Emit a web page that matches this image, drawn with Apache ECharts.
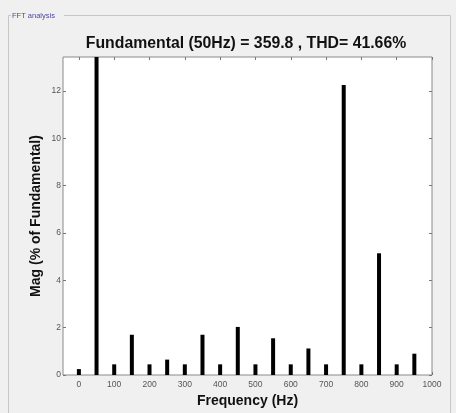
<!DOCTYPE html>
<html>
<head>
<meta charset="utf-8">
<script src="https://cdn.jsdelivr.net/npm/echarts@6/dist/echarts.min.js"></script>
<style>
html,body{margin:0;padding:0;background:#f0f0f0;}
#c{width:456px;height:413px;}
</style>
</head>
<body>
<div id="c"></div>
<script>
var frequencies = [0, 50, 100, 150, 200, 250, 300, 350, 400, 450, 500, 550, 600, 650, 700, 750, 800, 850, 900, 950];
var magnitudes = [0.25, 100, 0.45, 1.7, 0.45, 0.65, 0.45, 1.7, 0.45, 2.03, 0.45, 1.55, 0.45, 1.12, 0.45, 12.25, 0.45, 5.14, 0.45, 0.9];
var xTicks = [0, 100, 200, 300, 400, 500, 600, 700, 800, 900, 1000];
var yTicks = [0, 2, 4, 6, 8, 10, 12];
var titleText = 'Fundamental (50Hz) = 359.8 , THD= 41.66%';

var chart = echarts.init(document.getElementById('c'), null, {renderer: 'canvas'});
var tickStyle = {show: true, inside: true, length: 3, lineStyle: {color: '#777', width: 1}};
var labelStyle = {color: '#555', fontSize: 8.5, fontFamily: 'Liberation Sans Narrow, Liberation Sans, Arial',
  formatter: function (v) { return String(v); }};
var data = frequencies.map(function (f, i) { return [f, magnitudes[i]]; });
var noLine = {show: false, onZero: false};

chart.setOption({
  backgroundColor: '#f0f0f0',
  animation: false,
  title: {
    text: titleText,
    left: 241, top: 31, textAlign: 'center',
    textStyle: {fontSize: 15.8, fontWeight: 'bold', color: '#111', fontFamily: 'Liberation Sans, Arial'}
  },
  graphic: [
    {type: 'rect', shape: {x: 8.5, y: 15.5, width: 442, height: 420}, style: {fill: 'none', stroke: '#c6c6c6', lineWidth: 1}, z: 0},
    {type: 'rect', shape: {x: 11, y: 10, width: 53, height: 11}, style: {fill: '#f0f0f0'}, z: 1},
    {type: 'text', x: 12, y: 15.5, style: {text: 'FFT analysis', fontSize: 7.5, fill: '#4a4aa0', fontFamily: 'Liberation Sans, Arial', verticalAlign: 'middle'}, z: 2}
  ],
  grid: {
    left: 63, top: 57, right: 24, bottom: 37,
    show: true, backgroundColor: '#fff', borderColor: '#8a8a8a', borderWidth: 1
  },
  xAxis: [{
    type: 'value', min: -45, max: 1000, position: 'bottom',
    name: 'Frequency (Hz)', nameLocation: 'middle', nameGap: 19, nameMoveOverlap: false,
    nameTextStyle: {fontSize: 14, fontWeight: 'bold', color: '#111', fontFamily: 'Liberation Sans, Arial'},
    axisLine: noLine, splitLine: {show: false},
    axisTick: Object.assign({customValues: xTicks}, tickStyle),
    axisLabel: Object.assign({customValues: xTicks, margin: 5}, labelStyle)
  }, {
    type: 'value', min: -45, max: 1000, position: 'top',
    axisLine: noLine, splitLine: {show: false},
    axisTick: Object.assign({customValues: xTicks}, tickStyle),
    axisLabel: {show: false}
  }],
  yAxis: [{
    type: 'value', min: 0, max: 13.43, position: 'left',
    name: 'Mag (% of Fundamental)', nameLocation: 'middle', nameGap: 20, nameMoveOverlap: false,
    nameTextStyle: {fontSize: 14, fontWeight: 'bold', color: '#111', fontFamily: 'Liberation Sans, Arial'},
    axisLine: noLine, splitLine: {show: false},
    axisTick: Object.assign({customValues: yTicks}, tickStyle),
    axisLabel: Object.assign({customValues: yTicks, margin: 2}, labelStyle)
  }, {
    type: 'value', min: 0, max: 13.43, position: 'right',
    axisLine: noLine, splitLine: {show: false},
    axisTick: Object.assign({customValues: yTicks}, tickStyle),
    axisLabel: {show: false}
  }],
  series: [{
    type: 'bar', xAxisIndex: 0, yAxisIndex: 0,
    data: data, barWidth: 4, clip: true,
    itemStyle: {color: '#000'}
  }]
});
</script>
</body>
</html>
